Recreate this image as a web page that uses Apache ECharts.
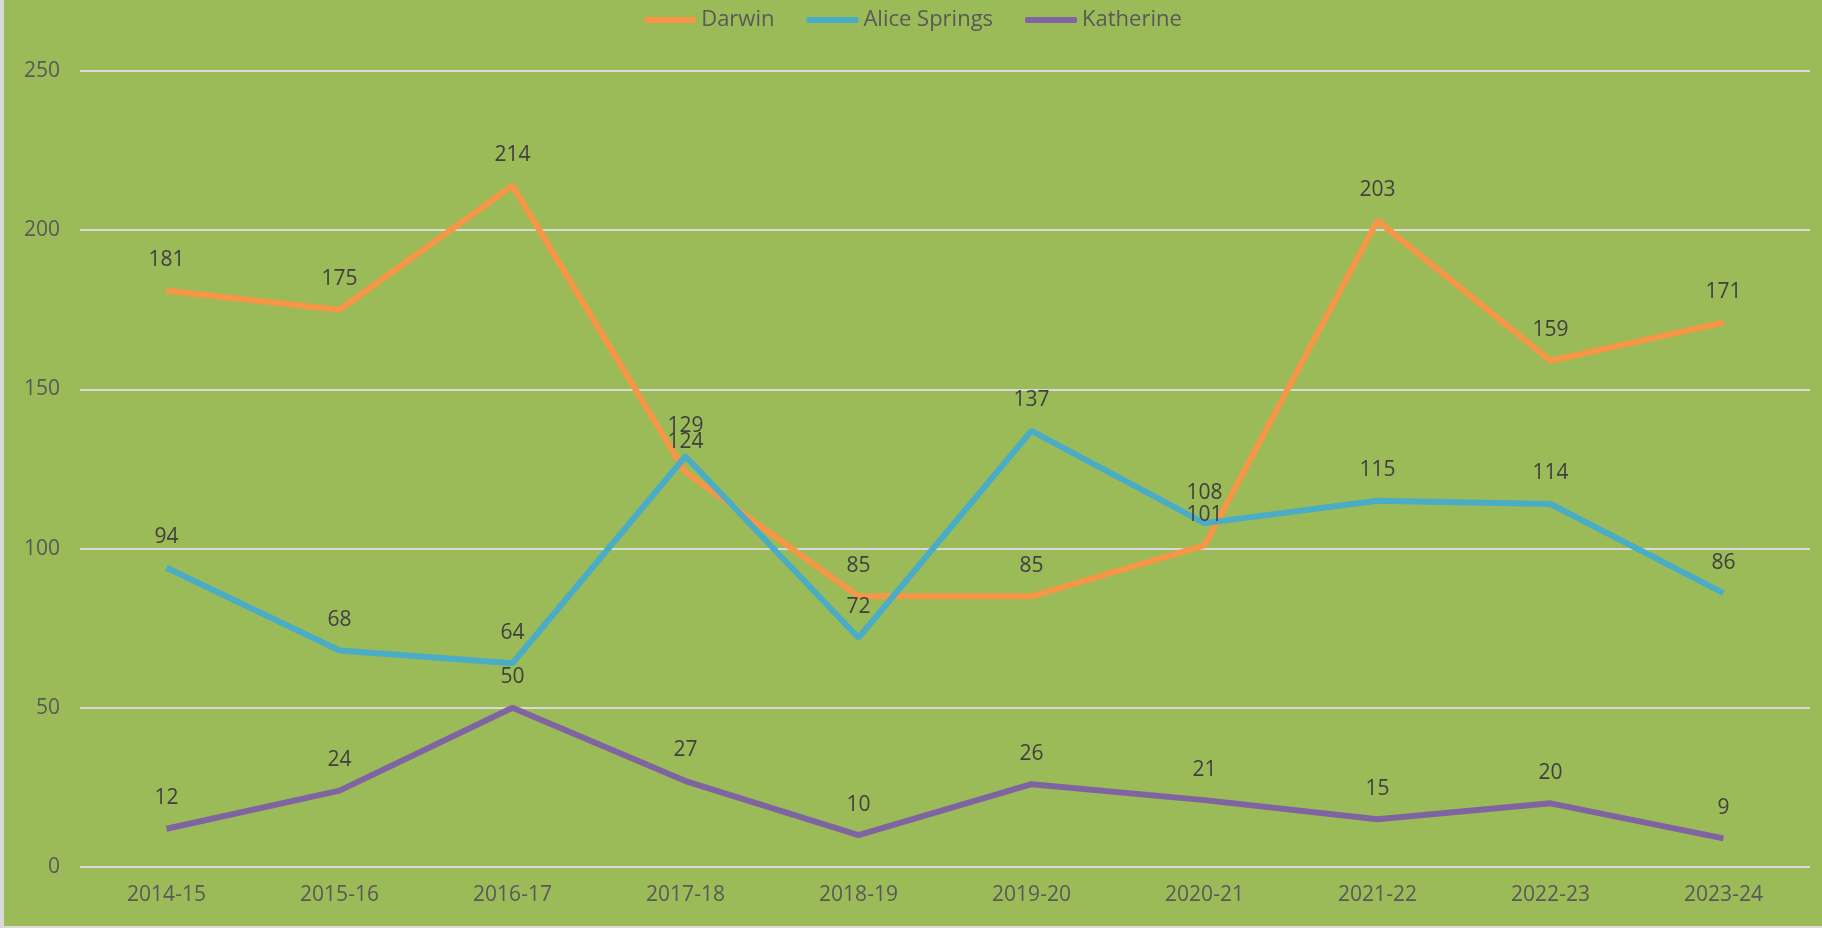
<!DOCTYPE html>
<html>
<head>
<meta charset="utf-8">
<script src="https://cdn.jsdelivr.net/npm/echarts@6/dist/echarts.min.js"></script>
<style>
  html, body { margin: 0; padding: 0; background: #d9d9d9; }
  #chart { position: absolute; left: 4px; top: 0; width: 1818px; height: 926px; background: #9bbb59; }
</style>
</head>
<body>
<div id="chart"></div>
<script>
  const years = ['2014-15', '2015-16', '2016-17', '2017-18', '2018-19', '2019-20', '2020-21', '2021-22', '2022-23', '2023-24'];
  const darwin = [181, 175, 214, 124, 85, 85, 101, 203, 159, 171];
  const aliceSprings = [94, 68, 64, 129, 72, 137, 108, 115, 114, 86];
  const katherine = [12, 24, 50, 27, 10, 26, 21, 15, 20, 9];

  const font = '"Open Sans", sans-serif';

  function lineSeries(name, data, color) {
    return {
      name: name,
      type: 'line',
      data: data,
      symbol: 'circle',
      symbolSize: 0.1,
      lineStyle: { color: color, width: 6 },
      itemStyle: { color: color },
      label: {
        show: true,
        position: 'top',
        distance: 20,
        color: '#404040',
        fontSize: 21,
        fontFamily: font
      }
    };
  }

  const chart = echarts.init(document.getElementById('chart'));
  const option = {
    animation: false,
    textStyle: { fontFamily: font },
    legend: {
      top: 4,
      left: 'center',
      itemWidth: 52,
      itemHeight: 6,
      itemGap: 32,
      icon: 'roundRect',
      textStyle: { color: '#595959', fontSize: 22, fontFamily: font },
      data: ['Darwin', 'Alice Springs', 'Katherine']
    },
    grid: {
      top: 71,
      left: 76,
      right: 12,
      bottom: 59
    },
    xAxis: {
      type: 'category',
      boundaryGap: true,
      data: years,
      axisLine: { show: false },
      axisTick: { show: false },
      axisLabel: { color: '#595959', fontSize: 21, margin: 18 }
    },
    yAxis: {
      type: 'value',
      min: 0,
      max: 250,
      interval: 50,
      axisLine: { show: false },
      axisTick: { show: false },
      axisLabel: { color: '#595959', fontSize: 21, margin: 20 },
      splitLine: { lineStyle: { color: '#d9d9d9', width: 2 } }
    },
    series: [
      lineSeries('Darwin', darwin, '#f79646'),
      lineSeries('Alice Springs', aliceSprings, '#4bacc6'),
      lineSeries('Katherine', katherine, '#8064a2')
    ]
  };
  chart.setOption(option);
  window.addEventListener('resize', function () {
    chart.resize();
  });
</script>
</body>
</html>
